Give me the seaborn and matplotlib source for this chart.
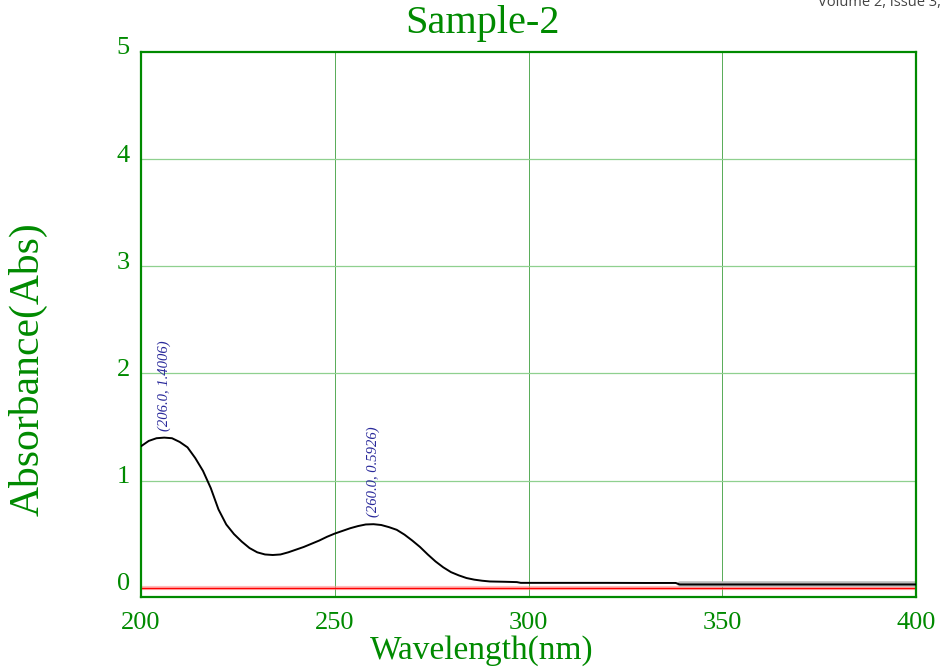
import numpy as np
import pandas as pd
import matplotlib
matplotlib.use("Agg")
import matplotlib.pyplot as plt
import matplotlib.transforms as mtransforms
import seaborn as sns

# ---- data ----
wavelength = [200, 202, 204, 206, 208, 210, 212, 214, 216, 218, 220, 222, 224, 226, 228,
              230, 232, 234, 236, 238, 240, 242, 244, 246, 248, 250, 252, 254, 256, 258,
              260, 262, 264, 266, 268, 270, 272, 274, 276, 278, 280, 282, 284, 286, 288,
              290, 294, 297, 298, 310, 320, 330, 338, 339, 350, 360, 370, 380, 390, 400]
absorbance = [1.32, 1.37, 1.395, 1.4006, 1.395, 1.36, 1.31, 1.21, 1.09, 0.93, 0.73, 0.59, 0.50, 0.43, 0.37,
              0.33, 0.31, 0.305, 0.31, 0.33, 0.355, 0.38, 0.41, 0.44, 0.475, 0.505, 0.53, 0.555, 0.575, 0.59,
              0.5926, 0.585, 0.565, 0.54, 0.495, 0.44, 0.38, 0.31, 0.245, 0.19, 0.145, 0.115, 0.09, 0.075, 0.065,
              0.058, 0.055, 0.052, 0.045, 0.045, 0.045, 0.044, 0.044, 0.03, 0.03, 0.03, 0.03, 0.03, 0.03, 0.03]
baseline_x = [200, 400]
baseline_y = [0, 0]
peaks_x = [206.0, 260.0]
peaks_y = [1.4006, 0.5926]
peak_labels = ["(206.0, 1.4006)", "(260.0, 0.5926)"]
x_ticks = [200, 250, 300, 350, 400]
y_ticks = [0, 1, 2, 3, 4, 5]
title = "Sample-2"
x_label = "Wavelength(nm)"
y_label = "Absorbance(Abs)"
header = "Volume 2, Issue 3,"

df = pd.DataFrame({"wavelength": wavelength, "absorbance": absorbance})
base = pd.DataFrame({"x": baseline_x, "y": baseline_y})

sns.set_theme(style="white")
plt.rcParams["font.family"] = ["Liberation Serif", "DejaVu Serif"]

GREEN = "#008a00"
fig = plt.figure(figsize=(9.44, 6.68), dpi=100)
ax = fig.add_axes([141 / 944, 1 - 597 / 668, (916 - 141) / 944, (597 - 52) / 668])

# grid
for xv in x_ticks[1:-1]:
    ax.axvline(xv, color="#3c9e3c", lw=0.6, zorder=0)
for yv in y_ticks[1:-1]:
    ax.axhline(yv, color="#8fd08f", lw=0.9, zorder=0)

# baseline (red) with light band
ax.plot(baseline_x, baseline_y, color="#ff9090", lw=3.0, alpha=0.6, zorder=1)
sns.lineplot(data=base, x="x", y="y", ax=ax, color="#ff0000", lw=1.0, zorder=2)

# gray band under the tail of the curve
tail = df[df["wavelength"] >= 339]
ax.plot(tail["wavelength"], tail["absorbance"], color="#bbbbbb", lw=4, zorder=2)
sns.lineplot(data=df, x="wavelength", y="absorbance", ax=ax, color="black", lw=1.4, zorder=3)

# peak annotations
for px, py, lab in zip(peaks_x, peaks_y, peak_labels):
    ax.annotate(lab, xy=(px, py), xytext=(0, 5), textcoords="offset points",
                rotation=90, ha="center", va="bottom", fontsize=10.5,
                style="italic", color="#28289a", zorder=4)

ax.set_xlim(200, 400)
ax.set_ylim(-0.087, 5.0)
ax.set_xticks(x_ticks)
ax.set_yticks(y_ticks)
ax.set_xticklabels([str(t) for t in x_ticks])
ax.set_yticklabels([str(t) for t in y_ticks])
ax.tick_params(axis="x", length=0, pad=11, labelsize=19, labelcolor=GREEN)
ax.tick_params(axis="y", length=0, pad=8, labelsize=19, labelcolor=GREEN)
shift = mtransforms.ScaledTranslation(0, 6 / 100, fig.dpi_scale_trans)
for lab in ax.get_yticklabels():
    lab.set_transform(lab.get_transform() + shift)

for s in ax.spines.values():
    s.set_color(GREEN)
    s.set_linewidth(1.6)

ax.set_xlabel("")
ax.set_ylabel("")
fig.text(482 / 944, 1 - 651 / 668, x_label, ha="center", va="center", fontsize=24, color=GREEN)
fig.text(28 / 944, 1 - 369 / 668, y_label, ha="center", va="center", fontsize=30,
         rotation=90, color=GREEN)
fig.text(483 / 944, 1 - 24 / 668, title, ha="center", va="center", fontsize=29, color=GREEN)
fig.text(818 / 944, 1 - 2 / 668, header, ha="left", va="center", fontsize=10.5,
         color="#444444", family=["Open Sans", "DejaVu Sans"])

fig.savefig("out.png", dpi=100)
